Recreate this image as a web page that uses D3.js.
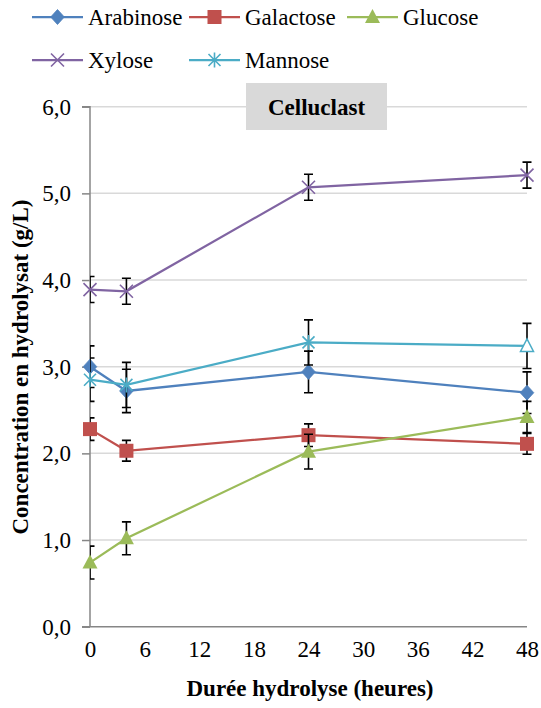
<!DOCTYPE html>
<html><head><meta charset="utf-8">
<script src="https://cdn.jsdelivr.net/npm/d3@7"></script>
<style>
html,body{margin:0;padding:0;background:#fff;}
svg text{font-family:"Liberation Serif","Times New Roman",Tinos,"DejaVu Serif",serif !important;fill:#000;}
</style></head>
<body><svg id="c" width="541" height="708"></svg>
<script>
const hours = [0, 4, 24, 48];
const seriesNames = ["Arabinose","Galactose","Glucose","Xylose","Mannose"];
const arabinose = [3.00, 2.72, 2.94, 2.70];
const arabinoseErr = [0.24, 0.25, 0.24, 0.24];
const galactose = [2.28, 2.03, 2.21, 2.11];
const galactoseErr = [0.13, 0.12, 0.13, 0.12];
const glucose = [0.74, 1.02, 2.02, 2.42];
const glucoseErr = [0.19, 0.19, 0.20, 0.18];
const xylose = [3.89, 3.87, 5.07, 5.21];
const xyloseErr = [0.15, 0.15, 0.15, 0.15];
const mannose = [2.85, 2.79, 3.28, 3.24];
const mannoseErr = [0.25, 0.26, 0.26, 0.26];
const xTicks = [0, 6, 12, 18, 24, 30, 36, 42, 48];
const yTicks = [0, 1, 2, 3, 4, 5, 6];
const titleText = "Celluclast";
const xTitle = "Durée hydrolyse (heures)";
const yTitle = "Concentration en hydrolysat (g/L)";

const colors = ["#4F81BD","#C0504D","#9BBB59","#8064A2","#4BACC6"];
const markerTypes = [
  ["diamond","diamond","diamond","diamond"],
  ["square","square","square","square"],
  ["triangle","triangle","triangle","triangle"],
  ["x","x","x","x"],
  ["asterisk","asterisk","asterisk","triangleOpen"]
];
const values = [arabinose, galactose, glucose, xylose, mannose];
const errs = [arabinoseErr, galactoseErr, glucoseErr, xyloseErr, mannoseErr];
const series = seriesNames.map((n,i)=>({name:n,color:colors[i],
  pts:hours.map((h,j)=>({h, v:values[i][j], e:errs[i][j], m:markerTypes[i][j]}))}));

const FONT = '"Liberation Serif","Times New Roman",Tinos,"DejaVu Serif",serif';
const svg = d3.select("#c").attr("font-family",FONT);
const x = d3.scaleLinear().domain([0,48]).range([90,527]);
const y = d3.scaleLinear().domain([0,6]).range([626.7,106.7]);
const FS = 23;

// gridlines
svg.append("g").selectAll("line").data(yTicks.filter(d=>d>0)).join("line")
  .attr("x1",x(0)).attr("x2",x(48)).attr("y1",d=>y(d)).attr("y2",d=>y(d))
  .attr("stroke","#D9D9D9").attr("stroke-width",1.5);

// y axis
const yAxis = svg.append("g").attr("transform",`translate(${x(0)},0)`)
  .call(d3.axisLeft(y).tickValues(yTicks).tickSize(8).tickPadding(11)
    .tickFormat(d=>d3.format(".1f")(d).replace(".",",")));
yAxis.attr("font-family",FONT).attr("font-size",FS);
yAxis.select(".domain").attr("stroke","#868686").attr("stroke-width",1.5).attr("d",`M-8,${y(6)}H0V${y(0)}`);
yAxis.selectAll(".tick line").attr("stroke","#868686").attr("stroke-width",1.5);
yAxis.selectAll(".tick text").attr("fill","#000");

// x axis
const xAxis = svg.append("g").attr("transform",`translate(0,${y(0)})`)
  .call(d3.axisBottom(x).tickValues(xTicks).tickSize(0).tickPadding(14));
xAxis.attr("font-family",FONT).attr("font-size",FS);
xAxis.select(".domain").attr("stroke","#868686").attr("stroke-width",1.5).attr("d",`M${x(0)-8},0H${x(48)}`);
xAxis.selectAll(".tick text").attr("fill","#000");

// title box
svg.append("rect").attr("x",246).attr("y",83).attr("width",141).attr("height",47).attr("fill","#D9D9D9");
svg.append("text").attr("x",316.5).attr("y",107).attr("dy","0.35em").attr("text-anchor","middle")
  .attr("font-size",FS).attr("font-weight","bold").text(titleText);

// axis titles
svg.append("text").attr("x",310).attr("y",696).attr("text-anchor","middle")
  .attr("font-size",FS).attr("font-weight","bold").text(xTitle);
svg.append("text").attr("transform","translate(28,367) rotate(-90)").attr("text-anchor","middle")
  .attr("font-size",FS).attr("font-weight","bold").text(yTitle);

svg.append("clipPath").attr("id","clipPlot").append("rect")
  .attr("x",x(0)).attr("y",0).attr("width",541-x(0)).attr("height",708);

function drawMarker(g, type, color){
  if(type==="diamond"){
    g.append("path").attr("d","M0,-7.5L6.8,0L0,7.5L-6.8,0Z").attr("fill",color).attr("stroke",color).attr("stroke-width",0.8);
  } else if(type==="square"){
    g.append("rect").attr("x",-7).attr("y",-7).attr("width",14).attr("height",14).attr("fill",color);
  } else if(type==="triangle"){
    g.append("path").attr("d","M0,-8L7.5,6L-7.5,6Z").attr("fill",color);
  } else if(type==="triangleOpen"){
    g.append("path").attr("d","M0,-7L6.5,5.5L-6.5,5.5Z").attr("fill","#fff").attr("stroke",color).attr("stroke-width",1.5);
  } else if(type==="x"){
    g.append("path").attr("d","M-6.5,-6.5L6.5,6.5M-6.5,6.5L6.5,-6.5").attr("stroke",color).attr("stroke-width",1.6).attr("fill","none");
  } else if(type==="asterisk"){
    g.append("path").attr("d","M-6,-6L6,6M-6,6L6,-6M0,-7.5V7.5").attr("stroke",color).attr("stroke-width",1.6).attr("fill","none");
  }
}

const line = d3.line().x(d=>x(d.h)).y(d=>y(d.v));
series.forEach(s=>{
  const g = svg.append("g");
  const eb = g.append("g").attr("clip-path","url(#clipPlot)");
  s.pts.forEach(p=>{
    const cx = x(p.h), y1 = y(p.v+p.e), y2 = y(p.v-p.e);
    eb.append("path").attr("d",`M${cx},${y1}V${y2}M${cx-4.5},${y1}H${cx+4.5}M${cx-4.5},${y2}H${cx+4.5}`)
      .attr("stroke","#000").attr("stroke-width",1.6).attr("fill","none");
  });
  g.append("path").datum(s.pts).attr("d",line).attr("fill","none").attr("stroke",s.color).attr("stroke-width",2.25);
  s.pts.forEach(p=>{
    drawMarker(g.append("g").attr("transform",`translate(${x(p.h)},${y(p.v)})`), p.m, s.color);
  });
});

// legend
const legendPos = [[32,17],[189,17],[347,17],[32,60],[189,60]];
series.forEach((s,i)=>{
  const [lx,ly] = legendPos[i];
  const g = svg.append("g");
  g.append("line").attr("x1",lx).attr("x2",lx+51).attr("y1",ly).attr("y2",ly).attr("stroke",s.color).attr("stroke-width",2.25);
  drawMarker(g.append("g").attr("transform",`translate(${lx+25.5},${ly})`), markerTypes[i][0], s.color);
  g.append("text").attr("x",lx+56).attr("y",ly).attr("dy","0.35em").attr("font-size",FS).text(s.name);
});
</script></body></html>
